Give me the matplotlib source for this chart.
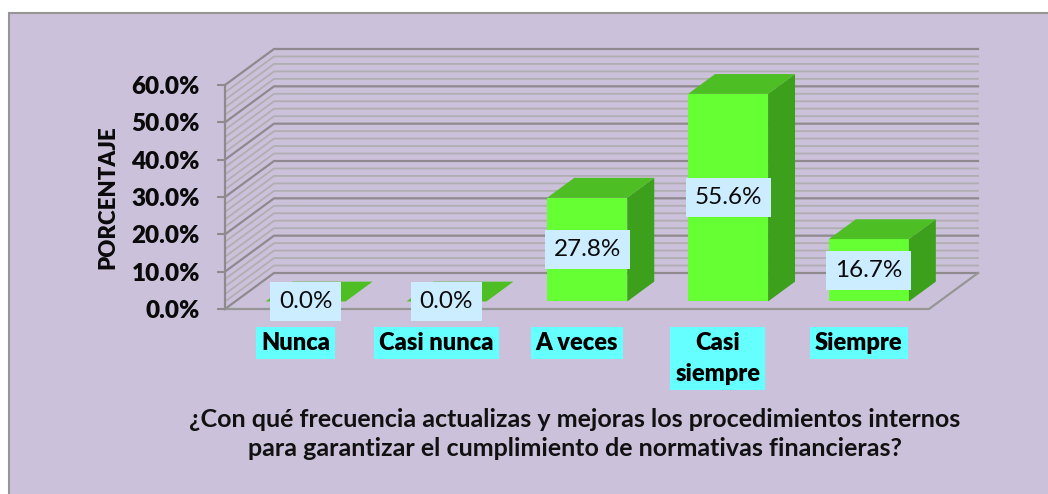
import matplotlib
matplotlib.use("Agg")
import matplotlib.pyplot as plt
from matplotlib.patches import Polygon, Rectangle

categories = ["Nunca", "Casi nunca", "A veces", "Casi\nsiempre", "Siempre"]
values = [0.0, 0.0, 27.8, 55.6, 16.7]
value_labels = ["0.0%", "0.0%", "27.8%", "55.6%", "16.7%"]
y_ticks = [0, 10, 20, 30, 40, 50, 60]
y_ticklabels = ["0.0%", "10.0%", "20.0%", "30.0%", "40.0%", "50.0%", "60.0%"]
title_text = ("¿Con qué frecuencia actualizas y mejoras los procedimientos internos\n"
              "para garantizar el cumplimiento de normativas financieras?")

W, H = 1048, 494
plt.rcParams["font.family"] = ["Lato", "DejaVu Sans"]

fig = plt.figure(figsize=(W / 100, H / 100), dpi=100, facecolor="white")

# panel behind everything, its right and bottom edges run off the picture
fig.add_artist(Rectangle((9 / W, -0.05), 1.05, 1.05 - 13 / H, transform=fig.transFigure,
                         facecolor="#CCC1DA", edgecolor="#969696", linewidth=1.5, zorder=-5))

# the axes is the front plane of the oblique box
ax = fig.add_axes([225 / W, 1 - 309 / H, 704 / W, 224 / H])
ax.set_xlim(0, 5)
ax.set_ylim(0, 60)
ax.patch.set_alpha(0)
for s in ax.spines.values():
    s.set_visible(False)

# oblique projection, depth 0 to 1 in data units
dep_x = 49 / (704 / 5)
dep_y = 36 / (224 / 60)


def proj(x, y, d=1.0):
    return x + d * dep_x, y + d * dep_y


def poly(pts, **kw):
    ax.add_patch(Polygon(pts, closed=True, clip_on=False, **kw))


# walls and grid
for v in range(0, 61, 2):
    major = v % 10 == 0
    col = "#8E8A8E" if major else "#B1AEB1"
    lw = 1.6 if major else 1.3
    ax.plot([0, proj(0, v)[0], proj(5, v)[0]], [v, proj(0, v)[1], proj(5, v)[1]],
            color=col, lw=lw, clip_on=False, zorder=1 if not major else 1.5,
            solid_joinstyle="miter")

# floor and left edge
ax.plot([0, 5, proj(5, 0)[0]], [0, 0, proj(5, 0)[1]], color="#969696", lw=1.6, clip_on=False, zorder=2)
ax.plot([0, 0], [0, 60], color="#8E8A8E", lw=1.6, clip_on=False, zorder=2)

# bars
bar_w = 80 / (704 / 5)
front_d = 0.21
back_d = 0.76
for i, v in enumerate(values):
    x0 = i + 0.5 - bar_w / 2
    x1 = i + 0.5 + bar_w / 2
    fl, fb = proj(x0, 0, front_d)
    fr, ft = proj(x1, v, front_d)
    bl, bb = proj(x0, 0, back_d)
    br, bt = proj(x1, v, back_d)
    poly([(fl, fb), (fr, fb), (fr, ft), (fl, ft)], facecolor="#66FF33", edgecolor="none", zorder=3)
    poly([(fr, fb), (br, bb), (br, bt), (fr, ft)], facecolor="#3DA01C", edgecolor="none", zorder=3)
    poly([(fl, ft), (fr, ft), (br, bt), (bl, bt)], facecolor="#4DBF25", edgecolor="none", zorder=3.1)
    ax.text((fl + fr) / 2, (fb + ft) / 2, value_labels[i], ha="center", va="center",
            fontsize=17.5, color="#0a0a0a", zorder=5,
            bbox=dict(boxstyle="square,pad=0.36", facecolor="#CCECFF", edgecolor="none"))

ax.set_yticks(y_ticks)
ax.set_yticklabels(y_ticklabels, fontsize=17.5, fontweight="heavy", color="#0a0a0a")
ax.tick_params(axis="y", length=6, width=1.5, color="#8E8A8E", pad=12)
ax.set_xticks([i + 0.5 for i in range(5)])
ax.set_xticklabels(categories, fontsize=17, fontweight="heavy", color="black",
                   linespacing=1.5, va="top",
                   bbox=dict(boxstyle="square,pad=0.22", facecolor="#66FFFF", edgecolor="none"))
ax.tick_params(axis="x", length=0, pad=16.5)

fig.text(108 / W, 1 - 197 / H, "PORCENTAJE", rotation=90, ha="center", va="center",
         fontsize=16, fontweight="heavy", color="#0a0a0a")
fig.text(575 / W, 1 - 434 / H, title_text, ha="center", va="center", fontsize=18,
         fontweight="bold", color="#111111", linespacing=1.3)

fig.savefig("out.png", dpi=100, facecolor="white")
